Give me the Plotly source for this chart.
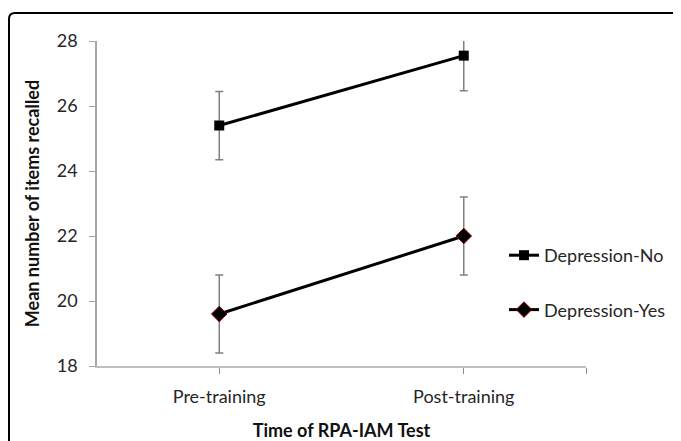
import plotly.graph_objects as go

categories = ["Pre-training", "Post-training"]
dep_no = [25.4, 27.55]
dep_no_err = [1.05, 1.08]
dep_yes = [19.6, 22.0]
dep_yes_err = [1.2, 1.2]
y_ticks = [18, 20, 22, 24, 26, 28]

FONT = "Lato"
xpos = list(range(len(categories)))

fig = go.Figure()
fig.add_trace(go.Scatter(
    x=xpos, y=dep_no, mode="lines+markers", name="Depression-No",
    legendgroup="a",
    line=dict(color="black", width=3),
    marker=dict(symbol="square", size=10, color="black"),
    error_y=dict(type="data", array=dep_no_err, color="#808080", thickness=1.5, width=4),
))
fig.add_trace(go.Scatter(
    x=xpos, y=dep_yes, mode="lines+markers", name="Depression-Yes",
    legendgroup="b",
    line=dict(color="black", width=3),
    marker=dict(symbol="diamond", size=12, color="black", line=dict(color="#8b0000", width=1)),
    error_y=dict(type="data", array=dep_yes_err, color="#808080", thickness=1.5, width=4),
))

OFF = 8  # page body margin
W, H = 681, 441
L, T = 97 - OFF, 41 - OFF
R, B = W - (586 - OFF), H - (366 - OFF)
pw, ph = W - L - R, H - T - B

def px(sx):
    return (sx - OFF - L) / pw

def py(sy):
    return 1 - (sy - OFF - T) / ph

# rounded frame (decoration)
x0, y0, x1, y1 = px(9), py(13), px(720), py(480)
rx, ry = 6 / pw, 6 / ph
path = (f"M {x0},{y1} L {x0},{y0 - ry} Q {x0},{y0} {x0 + rx},{y0} "
        f"L {x1},{y0} L {x1},{y1} Z")
fig.add_shape(type="path", path=path, xref="paper", yref="paper",
              line=dict(color="black", width=2), fillcolor="rgba(0,0,0,0)", layer="below")

fig.update_layout(
    width=W, height=H,
    margin=dict(l=L, r=R, t=T, b=B),
    paper_bgcolor="white", plot_bgcolor="white",
    font=dict(family=FONT, size=18, color="#262626"),
    showlegend=True,
    legend=dict(x=px(504), y=py(237), xanchor="left", yanchor="top",
                font=dict(size=18, color="#262626"), tracegroupgap=28,
                bgcolor="rgba(0,0,0,0)"),
    xaxis=dict(range=[-0.5, 1.5], tickvals=xpos + [1.5], ticktext=categories + [""],
               showline=True, linecolor="#bfbfbf", linewidth=1.5,
               ticks="outside", ticklen=6, tickcolor="#8c8c8c",
               ticklabelstandoff=8,
               showgrid=False, zeroline=False, automargin=False,
               title=dict(text="<b>Time of RPA-IAM Test</b>", font=dict(size=18, color="#111"), standoff=18)),
    yaxis=dict(range=[18, 28], tickvals=y_ticks,
               showline=True, linecolor="#a6a6a6", linewidth=1.5,
               ticks="outside", ticklen=6, tickcolor="#a6a6a6",
               ticklabelstandoff=8,
               showgrid=False, zeroline=False, automargin=False,
               title=dict(text="<b>Mean number of items recalled</b>", font=dict(size=18, color="#111"), standoff=12)),
)

fig.write_html("out.html")
